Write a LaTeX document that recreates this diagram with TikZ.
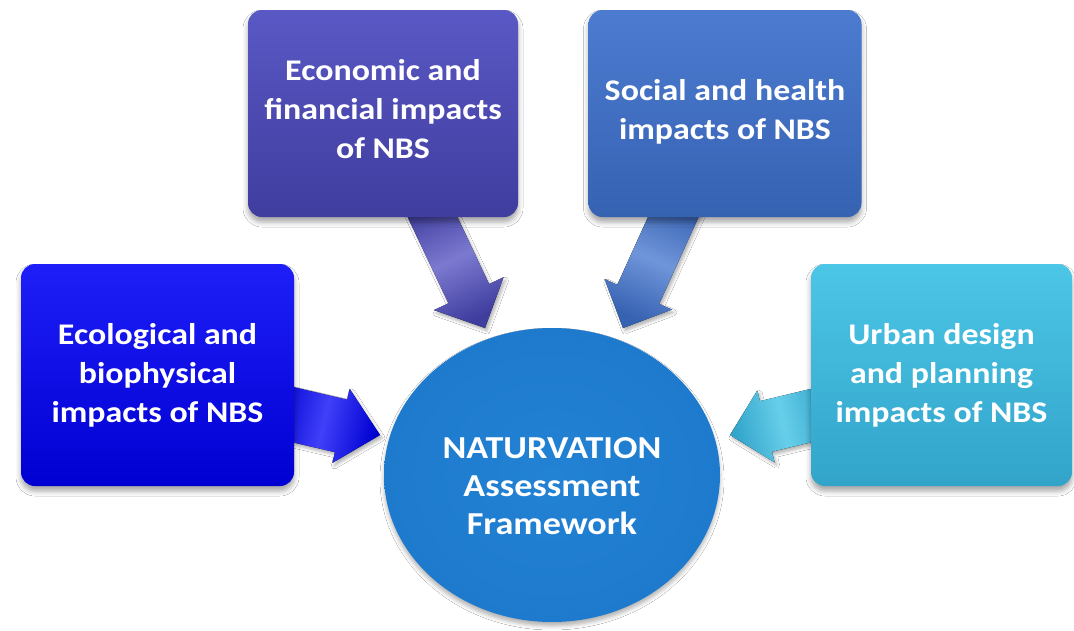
\documentclass[tikz,border=0pt]{standalone}
\usepackage{fontspec}
\setmainfont{Carlito}[FakeStretch=1.13]
\usetikzlibrary{calc,shapes.geometric,shadows.blur}
\definecolor{ecoTop}{HTML}{5A58C4}
\definecolor{ecoBot}{HTML}{3F3D9E}
\definecolor{socTop}{HTML}{4C7BD0}
\definecolor{socBot}{HTML}{3662B2}
\definecolor{ecolTop}{HTML}{1E1EF8}
\definecolor{ecolBot}{HTML}{0000D2}
\definecolor{urbTop}{HTML}{4CC6E6}
\definecolor{urbBot}{HTML}{32A4CA}
\definecolor{circA}{HTML}{2282D4}
\definecolor{circB}{HTML}{1C76C8}
\definecolor{circC}{HTML}{1260AE}
\pgfdeclareradialshading{circshade}{\pgfpoint{0bp}{0bp}}{color(0bp)=(circA); color(38bp)=(circB); color(50bp)=(circC)}
\newcommand{\boxfont}{\bfseries\fontsize{30}{39}\selectfont}
\newcommand{\circfont}{\bfseries\fontsize{32}{38}\selectfont}
% tail, tip, shaft half width, head half width, head length, style
\newcommand{\blockarrow}[6]{%
  \coordinate (#1-b) at ($(#2)!#5!(#1)$);
  \fill[#6] ($(#1)!#3!90:(#2)$) -- ($(#1-b)!#3!-90:(#1)$) -- ($(#1-b)!#4!-90:(#1)$) -- (#2)
    -- ($(#1-b)!#4!90:(#1)$) -- ($(#1-b)!#3!90:(#1)$) -- ($(#1)!#3!-90:(#2)$) -- cycle;
}
\tikzset{
  box/.style={rounded corners=14pt, inner sep=0pt, align=center, text=white, font=\boxfont,
    blur shadow={shadow xshift=0pt, shadow yshift=-5pt, shadow blur radius=5pt, shadow opacity=35}},
  barrow/.style={blur shadow={shadow xshift=2pt, shadow yshift=-3pt, shadow blur radius=3pt, shadow opacity=30}},
}
\begin{document}
\begin{tikzpicture}[x=1pt,y=-1pt]
\useasboundingbox (0,0) rectangle (1074,630);
\fill[white] (0,0) rectangle (1074,630);
% arrow end points
\coordinate (t1) at (424.5,200);
\coordinate (p1) at (485,328);
\coordinate (t2) at (681,200);
\coordinate (p2) at (623,328);
\coordinate (t3) at (273,410);
\coordinate (p3) at (380,435);
\coordinate (t4) at (830,411);
\coordinate (p4) at (730,435);
% block arrows
\blockarrow{t1}{p1}{22.5pt}{38.5pt}{38pt}{barrow, left color=ecoBot, right color=ecoBot, middle color=ecoTop!80!white, shading angle=25}
\blockarrow{t2}{p2}{23pt}{37pt}{37pt}{barrow, left color=socBot, right color=socBot, middle color=socTop!80!white, shading angle=-24}
\blockarrow{t3}{p3}{27pt}{38pt}{40pt}{barrow, left color=ecolBot, right color=ecolBot, middle color=ecolTop!85!white, shading angle=77}
\blockarrow{t4}{p4}{26pt}{37pt}{37pt}{barrow, left color=urbBot, right color=urbBot, middle color=urbTop!85!white, shading angle=-77}
% boxes
\node[box, top color=ecoTop, bottom color=ecoBot, minimum width=270pt, minimum height=207pt] (eco) at (383,113.5) {Economic and\\financial impacts\\of NBS\\[-29pt]\mbox{}};
\node[box, top color=socTop, bottom color=socBot, minimum width=273pt, minimum height=207pt] (soc) at (725,113.5) {Social and health\\impacts of NBS\\[-31pt]\mbox{}};
\node[box, top color=ecolTop, bottom color=ecolBot, minimum width=273pt, minimum height=222pt] (ecol) at (157.5,375) {Ecological and\\biophysical\\impacts of NBS};
\node[box, top color=urbTop, bottom color=urbBot, minimum width=261pt, minimum height=222pt] (urb) at (941.5,375) {Urban design\\and planning\\impacts of NBS};
% central ellipse
\node[ellipse, shading=circshade, inner sep=0pt, minimum width=336pt, minimum height=294pt,
  blur shadow={shadow xshift=0pt, shadow yshift=-4pt, shadow blur radius=4pt, shadow opacity=30}] (frame) at (552,475) {};
\node[align=center, text=white, font=\circfont, inner sep=0pt] (frametext) at ($(frame.center)+(0,11)$) {NATURVATION\\Assessment\\Framework};
\end{tikzpicture}
\end{document}
